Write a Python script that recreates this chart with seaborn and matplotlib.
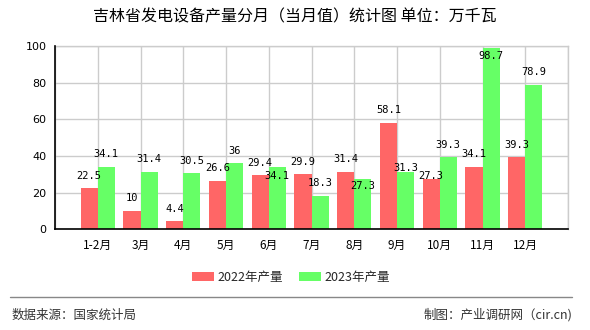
import matplotlib
matplotlib.use("Agg")
import matplotlib.pyplot as plt
from matplotlib.patches import Patch
from matplotlib.lines import Line2D
import pandas as pd
import seaborn as sns

# Monthly output of power generation equipment, Jilin (10k kW)
months = ["1-2月", "3月", "4月", "5月", "6月", "7月", "8月", "9月", "10月", "11月", "12月"]
output_2022 = [22.5, 10, 4.4, 26.6, 29.4, 29.9, 31.4, 58.1, 27.3, 34.1, 39.3]
output_2023 = [34.1, 31.4, 30.5, 36, 34.1, 18.3, 27.3, 31.3, 39.3, 98.7, 78.9]
series_names = ["2022年产量", "2023年产量"]
y_ticks = [0, 20, 40, 60, 80, 100]

title = "吉林省发电设备产量分月（当月值）统计图 单位：万千瓦"
source_text = "数据来源：国家统计局"
credit_text = "制图：产业调研网（cir.cn)"

colors = ["#FF6666", "#66FF66"]

sns.set_style("white")
plt.rcParams["font.family"] = ["Noto Sans CJK SC", "DejaVu Sans"]

df = pd.DataFrame({
    "month": months * 2,
    "value": output_2022 + output_2023,
    "series": [series_names[0]] * len(months) + [series_names[1]] * len(months),
})

fig = plt.figure(figsize=(5.9, 3.3), dpi=100)
ax = fig.add_axes([55 / 590, 1 - 229.3 / 330, 513 / 590, 183.3 / 330])

sns.barplot(data=df, x="month", y="value", hue="series", order=months,
            hue_order=series_names, palette=colors, saturation=1,
            width=0.8, gap=0, linewidth=0, edgecolor="none",
            legend=False, ax=ax, zorder=3)

ax.set_xlim(-1, 11)
ax.set_ylim(0, 100)
ax.set_xlabel("")
ax.set_ylabel("")

ax.set_xticks(range(-1, len(months) + 1))
ax.set_xticklabels([""] + months + [""], fontsize=8.5)
ax.set_yticks(y_ticks)
ax.set_yticklabels([str(v) for v in y_ticks], fontsize=8, family="DejaVu Sans")
ax.tick_params(axis="both", direction="out", length=4, width=1, color="black",
               pad=2, labelcolor="black")
ax.tick_params(axis="x", pad=3)

ax.grid(True, color="#CCCCCC", linewidth=1, zorder=0)
ax.set_axisbelow(True)
for side in ("top", "right"):
    ax.spines[side].set_color("#CCCCCC")
    ax.spines[side].set_linewidth(1)
for side in ("left", "bottom"):
    ax.spines[side].set_color("black")
    ax.spines[side].set_linewidth(1.2)
    ax.spines[side].set_zorder(4)

# Value labels: centred above each bar, a few nudged to keep them apart
default_offset = 12.5
label_offsets = {
    (0, 8): 3.6,
    (1, 4): -9,
    (1, 6): -7,
    (1, 7): 3.6,
    (1, 9): -8,
}
for s, (container, values) in enumerate(zip(ax.containers, [output_2022, output_2023])):
    for i, (bar, v) in enumerate(zip(container.patches, values)):
        cx = bar.get_x() + bar.get_width() / 2
        off_px = label_offsets.get((s, i), default_offset)
        ax.annotate(f"{v:g}", xy=(cx, v), xytext=(0, off_px * 0.72),
                    textcoords="offset points", ha="center", va="center",
                    fontsize=7.5, family="DejaVu Sans Mono", color="black",
                    zorder=5, annotation_clip=False)

fig.text(0.5, 1 - 17 / 330, title, ha="center", va="center", fontsize=11.5,
         color="black")

handles = [Patch(facecolor=c, edgecolor="none") for c in colors]
fig.legend(handles, series_names, loc="center", bbox_to_anchor=(291 / 590, 1 - 277 / 330),
           ncol=2, frameon=False, fontsize=9, handlelength=1.76, handleheight=0.75,
           handletextpad=0.25, columnspacing=1.3)

fig.add_artist(Line2D([10 / 590, 572 / 590], [1 - 297.3 / 330] * 2,
                      transform=fig.transFigure, color="#888888", linewidth=1))
fig.text(12 / 590, 1 - 315 / 330, source_text, ha="left", va="center",
         fontsize=9, color="#333333")
fig.text(572 / 590, 1 - 315 / 330, credit_text, ha="right", va="center",
         fontsize=9, color="#333333")

fig.savefig("out.png", dpi=100)
